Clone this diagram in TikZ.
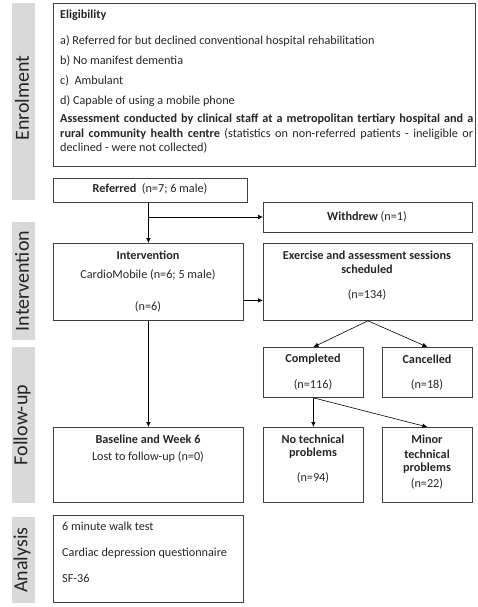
\documentclass[tikz,border=0pt]{standalone}
\usepackage{fontspec}
\setmainfont{Carlito}
\usetikzlibrary{arrows.meta}
\definecolor{bargray}{HTML}{D9D9D9}
\definecolor{linec}{HTML}{404040}
\definecolor{textc}{HTML}{262626}
\tikzset{
  box/.style={draw=linec, line width=0.8pt, inner sep=0pt, anchor=north west, fill=white},
  bar/.style={fill=bargray, draw=none},
  side/.style={rotate=90, font=\fontsize{20}{24}\selectfont, text=textc},
  txt/.style={font=\fontsize{12.2}{14.5}\selectfont, text=textc, inner sep=0pt},
  ltxt/.style={txt, anchor=west},
  arr/.style={draw=black, line width=0.6pt, -{Latex[length=5pt,width=4.5pt]}},
}
\begin{document}
\begin{tikzpicture}[x=1pt,y=-1pt]
\useasboundingbox (0,0) rectangle (478,607);
% side bars
\fill[bar] (12,3) rectangle (35,200);
\fill[bar] (12,222) rectangle (35,340);
\fill[bar] (12,347) rectangle (35,503);
\fill[bar] (12,517) rectangle (35,603);
\node[side] (lenrol) at (22,98) {Enrolment};
\node[side] (linterv) at (22,281) {Intervention};
\node[side] (lfollow) at (22,425) {Follow-up};
\node[side] (lanal) at (22,560) {Analysis};
% boxes
\node[box, minimum width=422pt, minimum height=163pt] (elig) at (53,3) {};
\node[box, minimum width=194pt, minimum height=24pt] (ref) at (53,178) {};
\node[box, minimum width=209pt, minimum height=30pt] (wd) at (263,202) {};
\node[box, minimum width=190pt, minimum height=77pt] (interv) at (53,243) {};
\node[box, minimum width=209pt, minimum height=77pt] (exer) at (263,243) {};
\node[box, minimum width=100pt, minimum height=50pt] (compl) at (263,347) {};
\node[box, minimum width=90pt, minimum height=50pt] (canc) at (382,347) {};
\node[box, minimum width=190pt, minimum height=75pt] (base) at (53,427) {};
\node[box, minimum width=100pt, minimum height=75pt] (notech) at (263,427) {};
\node[box, minimum width=90pt, minimum height=75pt] (minor) at (382,427) {};
\node[box, minimum width=190pt, minimum height=87pt] (anal) at (53,515) {};
% eligibility text
\node[ltxt] (e0) at (60,15) {\textbf{Eligibility}};
\node[ltxt] (e1) at (60,41) {a) Referred for but declined conventional hospital rehabilitation};
\node[ltxt] (e2) at (60,61) {b) No manifest dementia};
\node[ltxt] (e3) at (60,81) {c)\ \ Ambulant};
\node[ltxt] (e4) at (60,101) {d) Capable of using a mobile phone};
\node[txt, anchor=north west, text width=413pt, align=justify] (e5) at (60,114) {\textbf{Assessment conducted by clinical staff at a metropolitan tertiary hospital and a\linebreak rural community health centre} (statistics on non-referred patients - ineligible or\linebreak declined - were not collected)};
% other texts
\node[txt] (tref) at (150,189) {\textbf{Referred}\ \ (n=7; 6 male)};
\node[txt] (twd) at (367,217) {\textbf{Withdrew} (n=1)};
\node[txt] (ti1) at (148,255) {\textbf{Intervention}};
\node[txt] (ti2) at (148,275) {CardioMobile (n=6; 5 male)};
\node[txt] (ti3) at (148,307) {(n=6)};
\node[txt] (tx1) at (367,255) {\textbf{Exercise and assessment sessions}};
\node[txt] (tx2) at (367,269) {\textbf{scheduled}};
\node[txt] (tx3) at (367,295) {(n=134)};
\node[txt] (tc1) at (313,359) {\textbf{Completed}};
\node[txt] (tc2) at (313,385) {(n=116)};
\node[txt] (tk1) at (427,359) {\textbf{Cancelled}};
\node[txt] (tk2) at (427,385) {(n=18)};
\node[txt] (tb1) at (148,439) {\textbf{Baseline and Week 6}};
\node[txt] (tb2) at (148,457) {Lost to follow-up (n=0)};
\node[txt] (tn1) at (313,439) {\textbf{No technical}};
\node[txt] (tn2) at (313,453) {\textbf{problems}};
\node[txt] (tn3) at (313,478) {(n=94)};
\node[txt] (tm1) at (427,439) {\textbf{Minor}};
\node[txt] (tm2) at (427,454) {\textbf{technical}};
\node[txt] (tm3) at (427,468) {\textbf{problems}};
\node[txt] (tm4) at (427,484) {(n=22)};
\node[ltxt] (ta1) at (62,526) {6 minute walk test};
\node[ltxt] (ta2) at (62,553) {Cardiac depression questionnaire};
\node[ltxt] (ta3) at (62,578) {SF-36};
% connectors
\coordinate (br) at (148,217);
\draw[arr] (ref.south -| interv.north) -- (interv.north);
\draw[arr] (br) -- (br -| wd.west);
\draw[arr] ([yshift=-18.5pt]interv.east) -- ([yshift=-18.5pt]exer.west);
\draw[arr] (exer.south) -- (compl.north);
\draw[arr] (exer.south) -- (canc.north);
\draw[arr] (interv.south) -- (base.north);
\draw[arr] (compl.south) -- (notech.north);
\draw[arr] (compl.south) -- (minor.north);
\end{tikzpicture}
\end{document}
